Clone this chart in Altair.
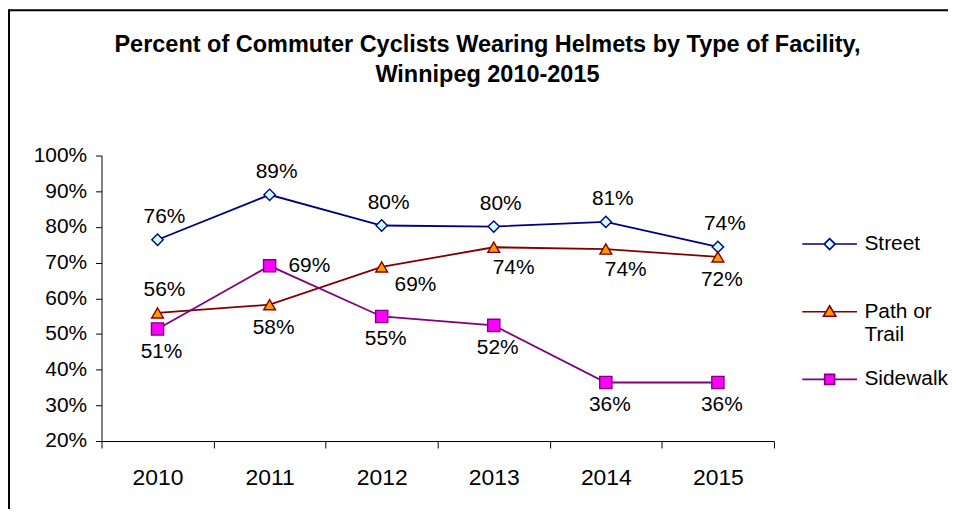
import altair as alt
import pandas as pd

# ---------------- data ----------------
years = ["2010", "2011", "2012", "2013", "2014", "2015"]
series_names = ["Street", "Path or Trail", "Sidewalk"]
street = [76.4, 89.0, 80.4, 80.1, 81.4, 74.4]
path_trail = [55.9, 58.2, 68.8, 74.3, 73.8, 71.6]
sidewalk = [51.4, 69.1, 54.9, 52.4, 36.4, 36.4]

# where each data label sits relative to its point
street_label_pos = ["above", "above", "above", "above", "above", "above"]
path_label_pos = ["above", "below", "belowfar", "belowright", "belowright", "below"]
sidewalk_label_pos = ["below", "right", "below", "below", "below", "below"]

y_ticks = [20, 30, 40, 50, 60, 70, 80, 90, 100]

# ---------------- styles ----------------
line_colors = ["#000080", "#800000", "#800080"]
fill_colors = ["#CCFFFF", "#FF9900", "#FF00FF"]
marker_shapes = ["diamond", "triangle-up", "square"]
marker_sizes = [130, 150, 110]
legend_paths = [
    "M-2.75,0H-0.55M0.55,0H2.75M0,-0.55L0.55,0L0,0.55L-0.55,0Z",
    "M-2.75,0H-0.38M0.38,0H2.75M0,-0.6L0.62,0.45L-0.62,0.45Z",
    "M-2.75,0H-0.5M0.5,0H2.75M-0.5,-0.5H0.5V0.5H-0.5Z",
]
label_offsets = {
    "above": dict(dx=7, dy=-23, align="center"),
    "below": dict(dx=4, dy=23, align="center"),
    "belowfar": dict(dx=34, dy=18, align="center"),
    "belowright": dict(dx=20, dy=21, align="center"),
    "right": dict(dx=19, dy=0, align="left"),
}
FONT = "Liberation Sans"

rows = []
for name, vals, poss in zip(series_names, [street, path_trail, sidewalk],
                            [street_label_pos, path_label_pos, sidewalk_label_pos]):
    for yr, v, p in zip(years, vals, poss):
        rows.append({"year": yr, "series": name, "value": v, "placement": p})
df = pd.DataFrame(rows)

x_enc = alt.X(
    "year:O",
    title=None,
    scale=alt.Scale(type="band", paddingInner=0, paddingOuter=0),
    axis=alt.Axis(labelAngle=0, tickBand="extent", tickSize=7, labelPadding=19,
                  labelFontSize=23, labelFont=FONT, labelColor="black",
                  domainColor="black", tickColor="black", grid=False),
)
y_enc = alt.Y(
    "value:Q",
    title=None,
    scale=alt.Scale(domain=[20, 100], nice=False, zero=False),
    axis=alt.Axis(values=y_ticks, labelExpr="datum.value + '%'", tickSize=6,
                  labelPadding=9, labelFontSize=21, labelFont=FONT,
                  labelColor="black", domainColor="black", tickColor="black",
                  grid=False),
)

base = alt.Chart(df)

lines = base.mark_line(strokeWidth=1.8).encode(
    x=x_enc, y=y_enc,
    stroke=alt.Stroke("series:N", scale=alt.Scale(domain=series_names, range=line_colors), legend=None),
)

points = base.mark_point(opacity=1, filled=False, strokeWidth=1.4).encode(
    x=x_enc, y=y_enc,
    shape=alt.Shape("series:N", scale=alt.Scale(domain=series_names, range=marker_shapes), legend=None),
    fill=alt.Fill("series:N", scale=alt.Scale(domain=series_names, range=fill_colors), legend=None),
    stroke=alt.Stroke("series:N", scale=alt.Scale(domain=series_names, range=line_colors), legend=None),
    size=alt.Size("series:O", scale=alt.Scale(domain=series_names, range=marker_sizes), legend=None),
)

text_layers = []
for pl, off in label_offsets.items():
    text_layers.append(
        base.transform_filter(alt.datum.placement == pl)
        .transform_calculate(lbl="format(datum.value, '.0f') + '%'")
        .mark_text(fontSize=21, font=FONT, color="black", baseline="middle", **off)
        .encode(x=x_enc, y=y_enc, text="lbl:N")
    )

legend_layer = base.transform_filter("false").mark_point(opacity=1, filled=False, strokeWidth=1.6).encode(
    shape=alt.Shape(
        "series:N",
        scale=alt.Scale(domain=series_names, range=legend_paths),
        legend=alt.Legend(
            title=None, orient="none", legendX=721, legendY=78, padding=0,
            symbolSize=400, symbolStrokeWidth=1.6, labelOffset=24,
            labelFontSize=21, labelFont=FONT, labelColor="black",
            rowPadding=24, labelLimit=0,
            labelExpr="datum.label == 'Path or Trail' ? ['Path or', 'Trail'] : "
                      "datum.label == 'Street' ? ['Street', ' '] : datum.label",
        ),
    ),
    fill=alt.Fill("series:N", scale=alt.Scale(domain=series_names, range=fill_colors)),
    stroke=alt.Stroke("series:N", scale=alt.Scale(domain=series_names, range=line_colors)),
)

border_df = pd.DataFrame({"b": [0]})
border_top = alt.Chart(border_df).mark_rule(color="black", strokeWidth=2).encode(
    x=alt.value(-93), x2=alt.value(860), y=alt.value(-146))
border_left = alt.Chart(border_df).mark_rule(color="black", strokeWidth=2).encode(
    x=alt.value(-93), y=alt.value(-147), y2=alt.value(360))

chart = alt.layer(
    lines, points, *text_layers, legend_layer, border_top, border_left
).resolve_scale(
    shape="independent", fill="independent", stroke="independent", size="independent"
).properties(
    width=676, height=287,
    padding={"left": 94, "top": 147, "right": 175, "bottom": 67},
    autosize=alt.AutoSizeParams(type="none"),
    background="white",
    title=alt.TitleParams(
        text=["Percent of Commuter Cyclists Wearing Helmets by Type of Facility,",
              "Winnipeg 2010-2015"],
        fontSize=23.6, font=FONT, fontWeight="bold", color="black",
        anchor="middle", frame="group", dx=50, offset=-79, lineHeight=31,
    ),
).configure_view(stroke=None)

chart.save("out.html", embed_options={"renderer": "svg", "actions": False})
